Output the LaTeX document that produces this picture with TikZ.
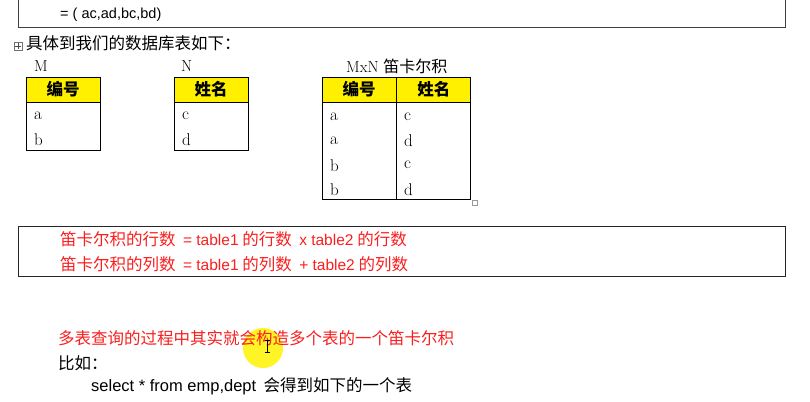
\documentclass[tikz,border=0pt]{standalone}
\usepackage{fontspec}
\newfontfamily\cjk{Noto Sans CJK SC}
\newfontfamily\arial{Liberation Sans}
\usetikzlibrary{positioning}

\definecolor{wordred}{RGB}{250,30,30}
\definecolor{headyellow}{RGB}{255,240,0}

\tikzset{
    cjktext/.style={anchor=west, inner sep=0pt, font=\cjk\fontsize{16.5}{19}\selectfont},
    latin/.style={anchor=west, inner sep=0pt, font=\fontsize{16}{18}\selectfont},
    head/.style={draw, line width=0.8pt, fill=headyellow, minimum width=74pt, minimum height=25pt, inner sep=0pt, font=\cjk\bfseries\fontsize{16.5}{19}\selectfont},
    tbody/.style={draw, line width=0.8pt, minimum width=74pt, inner sep=0pt},
    cell/.style={anchor=west, inner sep=0pt, font=\fontsize{17}{19}\selectfont}
}

\newcommand{\la}[1]{{\arial\fontsize{15.5}{18}\selectfont #1}}

\begin{document}
\begin{tikzpicture}[x=1pt, y=-1pt]
    \useasboundingbox (0,0) rectangle (810,401);

    % Boxes
    \draw [line width=1pt, black!75] (18,0) -- (18,28) -- (785,28) -- (785,0);
    \draw [line width=1pt, black!85] (18,226) rectangle (785,276);
    \fill [yellow, opacity=0.85] (263,348) circle (20pt);

    % Texts
    \node [anchor=west, inner sep=0pt, font=\arial\fontsize{14.5}{17}\selectfont] (pairs) at (60,15) {= ( ac,ad,bc,bd)};
    \node [draw, black!55, minimum size=8pt, inner sep=0pt] (plus) at (18,46) {};
    \draw [black!70] (plus.north) ++(0,-1.5pt) -- ([yshift=1.5pt]plus.south);
    \draw [black!70] (plus.west) ++(1.5pt,0) -- ([xshift=-1.5pt]plus.east);
    \node [cjktext] (intro) at (26,43) {具体到我们的数据库表如下：};
    \node [latin] (mLabel) at (34,66) {M};
    \node [latin] (nLabel) at (181,66) {N};
    \node [latin] (pLabel) at (346,66) {MxN {\cjk 笛卡尔积}};

    % Tables
    \node [head] (mHead) at (63,89.5) {编号};
    \node [tbody, minimum height=48pt, below=0pt of mHead] (mBody) {};
    \node [head] (nHead) at (211,89.5) {姓名};
    \node [tbody, minimum height=48pt, below=0pt of nHead] (nBody) {};
    \node [head] (pHeadA) at (359,89.5) {编号};
    \node [head, right=0pt of pHeadA] (pHeadB) {姓名};
    \node [tbody, minimum height=97pt, below=0pt of pHeadA] (pBodyA) {};
    \node [tbody, minimum height=97pt, below=0pt of pHeadB] (pBodyB) {};
    \node [draw, black!40, minimum size=5pt, inner sep=0pt] (grip) at (475,203) {};

    \foreach \l/\r [count=\i] in {a/c, b/d} {
        \node [cell] (m\i) at (34, 92+24*\i) {\l};
        \node [cell] (n\i) at (182, 92+24*\i) {\r};
    }
    \foreach \l/\r [count=\i] in {a/c, a/d, b/c, b/d} {
        \node [cell] (pl\i) at (330, 92+24.4*\i) {\l};
        \node [cell] (pr\i) at (404, 92+24.4*\i) {\r};
    }

    % Rules
    \node [cjktext, text=wordred] (rows) at (60,239) {笛卡尔积的行数 \ \la{= table1} 的行数 \ \la{x table2} 的行数};
    \node [cjktext, text=wordred] (cols) at (60,264) {笛卡尔积的列数 \ \la{= table1} 的列数 \ \la{+ table2} 的列数};

    % Bottom lines
    \node [cjktext, text=wordred] (query) at (58,338) {多表查询的过程中其实就会构造多个表的一个笛卡尔积};
    \node [cjktext] (eg) at (58,363) {比如：};
    \node [cjktext] (sql) at (91,386) {{\arial\fontsize{16.5}{19}\selectfont select * from emp,dept} \ 会得到如下的一个表};
    \draw [line width=0.6pt] (267,340) -- (267,352);
    \draw [line width=0.6pt] (264.5,340) -- (269.5,340) (264.5,352) -- (269.5,352);

\end{tikzpicture}
\end{document}
